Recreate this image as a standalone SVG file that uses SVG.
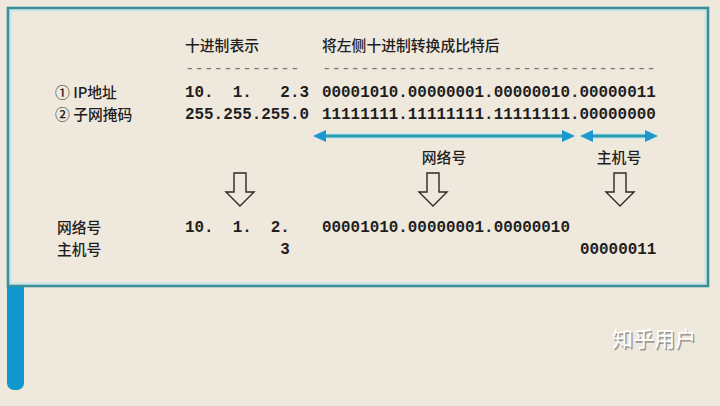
<svg xmlns="http://www.w3.org/2000/svg" xmlns:xlink="http://www.w3.org/1999/xlink" width="720" height="406" viewBox="0 0 720 406">
<style>
.cn{font-family:"Noto Sans CJK SC","Noto Sans",sans-serif;font-size:14.8px;font-weight:500;fill:#1e1e1e;}
.mono{font-family:"Liberation Mono","DejaVu Sans Mono",monospace;font-weight:bold;font-size:15.9px;fill:#1e1e1e;}
.dash{font-family:"Liberation Mono","DejaVu Sans Mono",monospace;font-size:15.9px;fill:#777;}
.halo{stroke:#cbe8ec;stroke-width:6;fill:none;}
.shaft{stroke:#2a9bb2;stroke-width:3;fill:none;}
.down{fill:none;stroke:#2a2a2a;stroke-width:1.4;stroke-linejoin:miter;}
</style>
<defs>
<marker id="ah" viewBox="0 0 13 12" refX="8" refY="6" markerWidth="13" markerHeight="12" markerUnits="userSpaceOnUse" orient="auto-start-reverse">
<path d="M0,0 L13,6 L0,12 Z" fill="#1a9ad0"/>
</marker>
<path id="downArrow" d="M-6,173 H6 V192 H14 L0,206 L-14,192 H-6 Z"/>
</defs>
<rect x="0" y="0" width="720" height="406" fill="#efe8dc"/>
<g id="frame">
<rect x="10.5" y="10.5" width="695" height="273" fill="none" stroke="#c5e6ea" stroke-width="2"/>
<rect x="8" y="8" width="700" height="278" fill="none" stroke="#3a8f9b" stroke-width="2.6"/>
<path d="M7,287 H24 V383 A7,7 0 0 1 17,390 H14 A7,7 0 0 1 7,383 Z" fill="#0f98cb"/>
</g>
<g id="headers">
<text class="cn" x="185" y="51">十进制表示</text>
<text class="cn" x="322" y="51">将左侧十进制转换成比特后</text>
<text class="dash" x="185" y="73">------------</text>
<text class="dash" x="322" y="73">-----------------------------------</text>
</g>
<g id="row-ip">
<text class="cn" x="55" y="98">① IP地址</text>
<text class="mono" x="185" y="97" xml:space="preserve">10.  1.   2.3</text>
<text class="mono" x="322" y="97">00001010.00000001.00000010.00000011</text>
</g>
<g id="row-mask">
<text class="cn" x="55" y="120">② 子网掩码</text>
<text class="mono" x="185" y="119">255.255.255.0</text>
<text class="mono" x="322" y="119">11111111.11111111.11111111.00000000</text>
</g>
<g id="connectors">
<line class="halo" x1="318" y1="136" x2="570" y2="136"/>
<line class="shaft" x1="318" y1="136" x2="570" y2="136" marker-start="url(#ah)" marker-end="url(#ah)"/>
<line class="halo" x1="585" y1="136" x2="653" y2="136"/>
<line class="shaft" x1="585" y1="136" x2="653" y2="136" marker-start="url(#ah)" marker-end="url(#ah)"/>
<use xlink:href="#downArrow" class="down" transform="translate(240,0)"/>
<use xlink:href="#downArrow" class="down" transform="translate(433,0)"/>
<use xlink:href="#downArrow" class="down" transform="translate(620,0)"/>
</g>
<g id="labels">
<text class="cn" x="444" y="163" text-anchor="middle">网络号</text>
<text class="cn" x="619" y="163" text-anchor="middle">主机号</text>
</g>
<g id="row-net">
<text class="cn" x="57" y="233">网络号</text>
<text class="mono" x="185" y="232" xml:space="preserve">10.  1.  2.</text>
<text class="mono" x="322" y="232">00001010.00000001.00000010</text>
</g>
<g id="row-host">
<text class="cn" x="57" y="255">主机号</text>
<text class="mono" x="185" y="254" xml:space="preserve">          3</text>
<text class="mono" x="580" y="254">00000011</text>
</g>
<g id="watermark">
<text x="613.5" y="347.5" font-family="Noto Sans CJK SC, sans-serif" font-size="21" fill="#7a7a7a" opacity="0.7">知乎用户</text>
<text x="612" y="346" font-family="Noto Sans CJK SC, sans-serif" font-size="21" fill="#ffffff">知乎用户</text>
</g>
</svg>
